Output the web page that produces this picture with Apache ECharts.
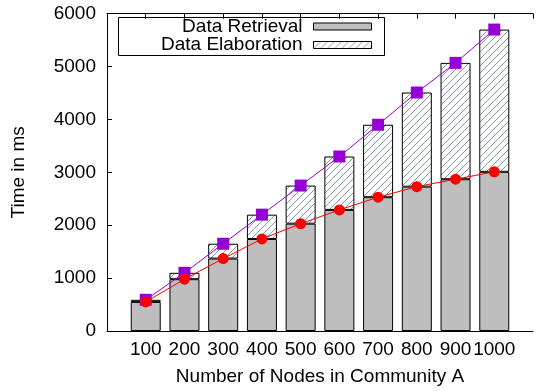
<!DOCTYPE html>
<html lang="en">
<head>
    <meta charset="UTF-8">
    <title>Time vs Number of Nodes</title>
    <script src="https://cdn.jsdelivr.net/npm/echarts/dist/echarts.min.js"></script>
</head>
<body style="margin: 0">
    <div id="chart" style="width: 536px; height: 391px;"></div>
    <script>
        // data
        const nodes = ['100', '200', '300', '400', '500', '600', '700', '800', '900', '1000'];
        const retrieval = [550, 980, 1370, 1740, 2030, 2290, 2530, 2730, 2870, 3010];
        const total = [590, 1100, 1650, 2200, 2750, 3300, 3900, 4510, 5070, 5700];
        const yTicks = [0, 1000, 2000, 3000, 4000, 5000, 6000];

        const elaboration = total.map((t, i) => t - retrieval[i]);

        // gnuplot puts the first box one step from the y axis, so pad the category list
        const cats = [''].concat(nodes, ['']);
        const pad = arr => [null].concat(arr, [null]);

        const font = 'Liberation Sans';

        // diagonal hatch fill
        function hatch() {
            const c = document.createElement('canvas');
            c.width = 7; c.height = 7;
            const g = c.getContext('2d');
            g.fillStyle = '#fff';
            g.fillRect(0, 0, 7, 7);
            g.strokeStyle = '#8a9aad';
            g.lineWidth = 1;
            g.beginPath();
            g.moveTo(0, 7); g.lineTo(7, 0);
            g.moveTo(-1, 1); g.lineTo(1, -1);
            g.moveTo(6, 8); g.lineTo(8, 6);
            g.stroke();
            return c;
        }

        const myChart = echarts.init(document.getElementById('chart'));

        const legendBase = {
            orient: 'horizontal',
            align: 'right',
            right: 164,
            padding: 0,
            itemWidth: 58,
            itemHeight: 7,
            icon: 'rect',
            itemStyle: { borderColor: '#000', borderWidth: 1 },
            textStyle: { fontFamily: font, fontSize: 19, color: '#000', padding: [0, 6, 0, 0] }
        };

        const option = {
            animation: false,
            textStyle: { fontFamily: font },
            grid: { left: 107, top: 13.7, width: 437, height: 318 },
            legend: [
                Object.assign({ data: ['Data Retrieval'], top: 17 }, legendBase),
                Object.assign({ data: ['Data Elaboration'], top: 35.5 }, legendBase)
            ],
            graphic: [{
                type: 'rect',
                shape: { x: 118.5, y: 17.5, width: 266, height: 38 },
                style: { fill: 'none', stroke: '#000', lineWidth: 1 },
                z: 10
            }],
            xAxis: [{
                type: 'category',
                data: cats,
                boundaryGap: false,
                position: 'bottom',
                name: 'Number of Nodes in Community A',
                nameLocation: 'middle',
                nameGap: 36,
                nameTextStyle: { fontFamily: font, fontSize: 19, color: '#000' },
                axisLine: { lineStyle: { color: '#000', width: 1 } },
                axisTick: { show: false },
                axisLabel: { fontFamily: font, fontSize: 19, color: '#000', margin: 9, interval: 0 },
                splitLine: { show: false }
            }, {
                type: 'category',
                data: cats,
                boundaryGap: false,
                position: 'top',
                axisLine: { lineStyle: { color: '#000', width: 1 } },
                axisTick: { inside: true, length: 5, interval: 0, lineStyle: { color: '#000' } },
                axisLabel: { show: false },
                splitLine: { show: false }
            }],
            yAxis: {
                type: 'value',
                min: yTicks[0],
                max: yTicks[yTicks.length - 1],
                interval: 1000,
                name: 'Time in ms',
                nameLocation: 'middle',
                nameGap: 79,
                nameTextStyle: { fontFamily: font, fontSize: 19, color: '#000' },
                axisLine: { show: true, lineStyle: { color: '#000', width: 1 } },
                axisTick: { show: true, inside: true, length: 5, lineStyle: { color: '#000' } },
                axisLabel: { fontFamily: font, fontSize: 19, color: '#000', margin: 11, formatter: v => String(v) },
                splitLine: { show: false }
            },
            series: [
                {
                    name: 'Data Retrieval',
                    type: 'bar',
                    stack: 'time',
                    barWidth: 30,
                    clip: false,
                    data: pad(retrieval),
                    itemStyle: { color: '#bebebe', borderColor: '#000', borderWidth: 1 }
                },
                {
                    name: 'Data Elaboration',
                    type: 'bar',
                    stack: 'time',
                    barWidth: 30,
                    clip: false,
                    data: pad(elaboration),
                    itemStyle: { color: { image: hatch(), repeat: 'repeat' }, borderColor: '#000', borderWidth: 1 }
                },
                {
                    name: 'total',
                    type: 'line',
                    data: pad(total),
                    symbol: 'rect',
                    symbolSize: 12,
                    z: 4,
                    itemStyle: { color: '#9400d3' },
                    lineStyle: { color: '#9400d3', width: 1 }
                },
                {
                    name: 'retrieval',
                    type: 'line',
                    data: pad(retrieval),
                    symbol: 'circle',
                    symbolSize: 11,
                    z: 5,
                    itemStyle: { color: '#ff0000' },
                    lineStyle: { color: '#ff0000', width: 1 }
                }
            ]
        };

        myChart.setOption(option);
    </script>
</body>
</html>
